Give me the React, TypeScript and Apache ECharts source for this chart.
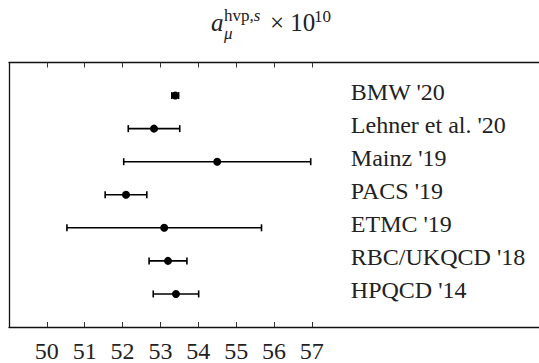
import React, { useEffect, useRef } from "react";
import * as echarts from "echarts";

const studies = ["BMW '20", "Lehner et al. '20", "Mainz '19", "PACS '19", "ETMC '19", "RBC/UKQCD '18", "HPQCD '14"];
const centralValues = [53.39, 52.83, 54.5, 52.09, 53.1, 53.2, 53.41];
const errors = [0.09, 0.68, 2.47, 0.55, 2.57, 0.5, 0.6];
const tickValues = [50, 51, 52, 53, 54, 55, 56, 57];
const labelX = 58.03;

const SERIF = "'Liberation Serif', 'DejaVu Serif', serif";
const TXT = "#222";

export default function App() {
  const ref = useRef<HTMLDivElement>(null);
  useEffect(() => {
    document.body.style.margin = "0";
    const chart = echarts.init(ref.current!, null, { renderer: "svg" });
    const data = centralValues.map((v, i) => [v, i + 1, errors[i]]);
    const axisCommon = {
      type: "value", min: 49, max: 63,
      axisLine: { show: true, onZero: false, lineStyle: { color: "#111", width: 1.3 } },
      axisTick: { show: true, inside: true, length: 5, customValues: tickValues, lineStyle: { color: "#333", width: 1 } },
      splitLine: { show: false },
    };
    chart.setOption({
      animation: false,
      backgroundColor: "#fff",
      grid: { left: 9, top: 62.5, width: 531, height: 266 },
      xAxis: [
        {
          ...axisCommon, position: "bottom",
          axisLabel: { show: true, customValues: tickValues, fontFamily: SERIF, fontSize: 24, color: TXT, margin: 12 },
        },
        {
          ...axisCommon, position: "top",
          axisLabel: { show: false },
        },
      ],
      yAxis: {
        type: "value", min: 0, max: 8, inverse: true,
        axisLine: { show: true, onZero: false, lineStyle: { color: "#111", width: 1.3 } },
        axisTick: { show: false }, axisLabel: { show: false }, splitLine: { show: false },
      },
      graphic: [
        { type: "text", x: 211, y: 22.8, style: { text: "a", font: `italic 25px ${SERIF}`, fill: TXT, verticalAlign: "middle" } },
        { type: "text", x: 224, y: 33.5, style: { text: "μ", font: `italic 17px ${SERIF}`, fill: TXT, verticalAlign: "middle" } },
        {
          type: "text", x: 224, y: 15.5,
          style: {
            text: "{r|hvp,}{i|s}", verticalAlign: "middle",
            rich: {
              r: { fontFamily: SERIF, fontSize: 17, fill: TXT },
              i: { fontFamily: SERIF, fontSize: 17, fontStyle: "italic", fill: TXT },
            },
          },
        },
        { type: "text", x: 270, y: 22.8, style: { text: "× 10", font: `25px ${SERIF}`, fill: TXT, verticalAlign: "middle" } },
        { type: "text", x: 314, y: 16.5, style: { text: "10", font: `17px ${SERIF}`, fill: TXT, verticalAlign: "middle" } },
      ],
      series: [
        {
          type: "custom",
          xAxisIndex: 0,
          data,
          renderItem: (params: any, api: any) => {
            const v = api.value(0);
            const row = api.value(1);
            const e = api.value(2);
            const c = api.coord([v, row]);
            const lo = api.coord([v - e, row]);
            const hi = api.coord([v + e, row]);
            const lx = api.coord([labelX, row])[0];
            const cap = 3.5;
            const st = { stroke: "#000", lineWidth: 1.6 };
            return {
              type: "group",
              children: [
                { type: "line", shape: { x1: lo[0], y1: lo[1], x2: hi[0], y2: hi[1] }, style: st },
                { type: "line", shape: { x1: lo[0], y1: lo[1] - cap, x2: lo[0], y2: lo[1] + cap }, style: st },
                { type: "line", shape: { x1: hi[0], y1: hi[1] - cap, x2: hi[0], y2: hi[1] + cap }, style: st },
                { type: "circle", shape: { cx: c[0], cy: c[1], r: 4 }, style: { fill: "#000" } },
                {
                  type: "text", x: lx, y: c[1] - 3.5,
                  style: { text: studies[params.dataIndex], font: `24px ${SERIF}`, fill: TXT, verticalAlign: "middle", align: "left" },
                },
              ],
            };
          },
        },
      ],
    });
    return () => chart.dispose();
  }, []);
  return <div ref={ref} style={{ width: 539, height: 363 }} />;
}
